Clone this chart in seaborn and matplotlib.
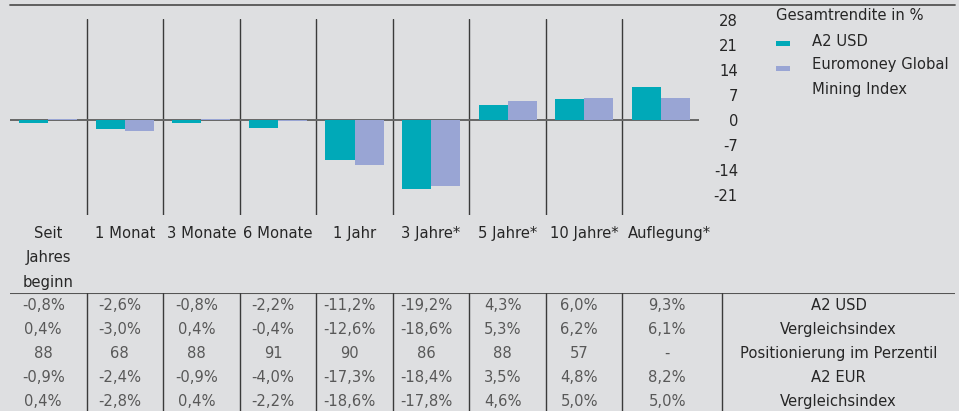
import matplotlib
matplotlib.use("Agg")
import matplotlib.pyplot as plt
import matplotlib.transforms as mtrans
import seaborn as sns
import pandas as pd
import numpy as np
from matplotlib.patches import Rectangle
from matplotlib.lines import Line2D

# ---------------- data ----------------
categories = ["Seit\nJahres\nbeginn", "1 Monat", "3 Monate", "6 Monate", "1 Jahr",
              "3 Jahre*", "5 Jahre*", "10 Jahre*", "Auflegung*"]
a2_usd = [-0.8, -2.6, -0.8, -2.2, -11.2, -19.2, 4.3, 6.0, 9.3]
vergleich = [0.4, -3.0, 0.4, -0.4, -12.6, -18.6, 5.3, 6.2, 6.1]
perzentil = ["88", "68", "88", "91", "90", "86", "88", "57", "-"]
a2_eur = [-0.9, -2.4, -0.9, -4.0, -17.3, -18.4, 3.5, 4.8, 8.2]
vergleich_eur = [0.4, -2.8, 0.4, -2.2, -18.6, -17.8, 4.6, 5.0, 5.0]
series_names = ["A2 USD", "Euromoney Global Mining Index"]
legend_lines = ["A2 USD", "Euromoney Global", "Mining Index"]
row_labels = ["A2 USD", "Vergleichsindex", "Positionierung im Perzentil", "A2 EUR", "Vergleichsindex"]
yticks = [28, 21, 14, 7, 0, -7, -14, -21]
legend_title = "Gesamtrendite in %"

# ---------------- style ----------------
BG = "#DEDFE1"
TEAL = "#00A9B8"
LAV = "#99A5D4"
TXT = "#262626"
VAL = "#585858"
FS = 10.6

sns.set_theme(style="white")
plt.rcParams["font.family"] = ["DejaVu Sans"]

W, H = 959, 411
fig = plt.figure(figsize=(W / 100, H / 100), dpi=100, facecolor=BG)


def fx(px):
    return px / W


def fy(py):
    return 1 - py / H


# chart axes: x 10..699 px, y 19..215 px
ax = fig.add_axes([fx(10), fy(215), fx(699) - fx(10), fy(19) - fy(215)])
ax.set_facecolor(BG)

df = pd.DataFrame({
    "cat": categories * 2,
    "val": a2_usd + vergleich,
    "series": [series_names[0]] * len(categories) + [series_names[1]] * len(categories),
})
sns.barplot(data=df, x="cat", y="val", hue="series", order=categories,
            hue_order=series_names, palette=[TEAL, LAV], width=0.76,
            saturation=1, legend=False, ax=ax, zorder=3, linewidth=0,
            edgecolor="none")

ax.set_xlim(-0.5, len(categories) - 0.5)
ax.set_ylim(-26.6, 28.3)
for s in ax.spines.values():
    s.set_visible(False)
ax.set_xlabel("")
ax.set_ylabel("")

# divider lines
for b in np.arange(0.5, len(categories) - 0.5, 1):
    ax.axvline(b, color="#3a3a3a", lw=1.0, zorder=1)
ax.axhline(0, color="#666666", lw=1.4, zorder=2)

# y ticks on right
ax.yaxis.tick_right()
ax.set_yticks(yticks)
ax.set_yticklabels([str(t) for t in yticks])
ax.tick_params(axis="y", length=0, pad=28, labelsize=FS, labelcolor=TXT)
for lab in ax.get_yticklabels():
    lab.set_horizontalalignment("right")

# x tick labels
ax.set_xticks(range(len(categories)))
ax.set_xticklabels(categories, linespacing=1.78)
ax.tick_params(axis="x", length=0, pad=8, labelsize=FS, labelcolor=TXT)
last = ax.get_xticklabels()[-1]
last.set_transform(last.get_transform() + mtrans.ScaledTranslation(9 / 100, 0, fig.dpi_scale_trans))

# top line
fig.add_artist(Line2D([fx(10), fx(955)], [fy(5), fy(5)], color="#555555", lw=1.3))

# legend (manual)
fig.text(fx(776), fy(16), legend_title, fontsize=FS, color=TXT, va="center", ha="left")
fig.add_artist(Rectangle((fx(776), fy(46.5)), fx(14), 5 / H, color=TEAL, lw=0))
fig.add_artist(Rectangle((fx(776), fy(70.5)), fx(14), 5 / H, color=LAV, lw=0))
for ly, txt in zip([41, 65, 89], legend_lines):
    fig.text(fx(812), fy(ly), txt, fontsize=FS, color=TXT, va="center", ha="left")

# ---------------- table ----------------
unit = (699 - 10) / len(categories)
tx_right = -0.5 + (955 - 10) / unit
tax = fig.add_axes([fx(10), fy(411), fx(955) - fx(10), fy(293) - fy(411)])
tax.set_facecolor(BG)
tax.set_xlim(-0.5, tx_right)
tax.set_ylim(411, 293)
tax.axis("off")
tax.axhline(293, color="#555555", lw=1.5)
label_sep = -0.5 + (722 - 10) / unit
for b in list(np.arange(0.5, len(categories) - 0.5, 1)) + [label_sep]:
    tax.axvline(b, color="#3a3a3a", lw=1.0)

col_centers = [float(i) for i in range(len(categories) - 1)] + [(len(categories) - 1.5 + label_sep) / 2]
shift = -5 / unit


def fmt(v):
    return f"{v:.1f}%".replace(".", ",")


rows = [[fmt(v) for v in a2_usd], [fmt(v) for v in vergleich], perzentil,
        [fmt(v) for v in a2_eur], [fmt(v) for v in vergleich_eur]]
row_y = [305, 329, 353, 377, 401]
label_x = (label_sep + tx_right) / 2
for ry, vals, rl in zip(row_y, rows, row_labels):
    for cx, v in zip(col_centers, vals):
        tax.text(cx + shift, ry, v, ha="center", va="center", fontsize=FS, color=VAL)
    tax.text(label_x, ry, rl, ha="center", va="center", fontsize=FS, color=TXT)

fig.savefig("out.png", dpi=100, facecolor=BG)
